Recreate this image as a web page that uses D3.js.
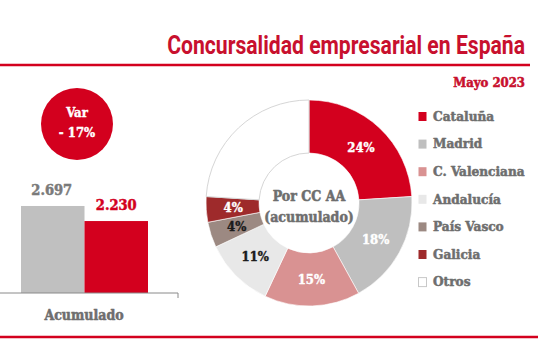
<!DOCTYPE html>
<html>
<head>
<meta charset="utf-8">
<script src="https://cdn.jsdelivr.net/npm/d3@7/dist/d3.min.js"></script>
<style>
  html, body { margin: 0; padding: 0; background: #fff; }
  svg { display: block; }
  .heavy { paint-order: stroke; stroke-linejoin: round; }
</style>
</head>
<body>
<svg id="chart" width="550" height="348"></svg>
<script>
// ---- Data ----
const title = "Concursalidad empresarial en España";
const subtitle = "Mayo 2023";
const barCategory = "Acumulado";
const barSeries = ["2022", "2023"];
const barValues = [2697, 2230];
const barLabels = ["2.697", "2.230"];
const variationLabel = ["Var", "- 17%"];
const regions = ["Cataluña", "Madrid", "C. Valenciana", "Andalucía", "País Vasco", "Galicia", "Otros"];
const regionShares = [24, 18, 15, 11, 4, 4, 24];
const regionLabels = ["24%", "18%", "15%", "11%", "4%", "4%", ""];
const centerText = ["Por CC AA", "(acumulado)"];

// ---- Styles ----
const RED = "#d3001e";
const regionColors = ["#d3001e", "#bfbfbf", "#d99292", "#e8e8e8", "#9c8982", "#9e2a2b", "#ffffff"];
const labelColors = ["#fff", "#fff", "#fff", "#1a1a1a", "#1a1a1a", "#fff", "#fff"];
const SERIF = "'DejaVu Serif Condensed', 'DejaVu Serif', serif";
const GRAY_TXT = "#6e6e6e";

const svg = d3.select("#chart");

function heavy(sel, color, w) {
  return sel.classed("heavy", true).attr("stroke", color).attr("stroke-width", w);
}

// Title (condensed by horizontal scaling)
const titleText = svg.append("text")
  .attr("x", 0).attr("y", 0)
  .attr("text-anchor", "end")
  .attr("font-family", "Roboto, 'Open Sans', sans-serif")
  .attr("font-weight", 700)
  .attr("font-size", 25)
  .attr("fill", "#c8102e")
  .text(title);
const tw = titleText.node().getComputedTextLength();
const sx = 358 / tw;
titleText.attr("transform", `translate(525,54) scale(${sx},1)`);

svg.append("line")
  .attr("x1", 0).attr("x2", 530).attr("y1", 65).attr("y2", 65)
  .attr("stroke", RED).attr("stroke-width", 2.5);

heavy(svg.append("text")
  .attr("x", 525).attr("y", 87)
  .attr("text-anchor", "end")
  .attr("font-family", SERIF)
  .attr("font-weight", 700)
  .attr("font-size", 13)
  .attr("fill", "#c8102e")
  .text(subtitle), "#c8102e", 0.5);

// Bottom line
svg.append("line")
  .attr("x1", 0).attr("x2", 538).attr("y1", 337).attr("y2", 337)
  .attr("stroke", RED).attr("stroke-width", 2.5);

// ---- Variation bubble ----
svg.append("circle")
  .attr("cx", 77).attr("cy", 124).attr("r", 36)
  .attr("fill", RED);
heavy(svg.selectAll("text.var").data(variationLabel).join("text")
  .attr("class", "var")
  .attr("x", 77)
  .attr("y", (d, i) => 117 + i * 20)
  .attr("text-anchor", "middle")
  .attr("font-family", SERIF)
  .attr("font-weight", 700)
  .attr("font-size", 13)
  .attr("fill", "#fff")
  .text(d => d), "#fff", 0.4);

// ---- Bars ----
const x = d3.scaleBand().domain(barSeries).range([21, 148]).padding(0);
const y = d3.scaleLinear().domain([0, 3000]).range([293, 196.2]);
const barColors = ["#c0c0c0", RED];
const barTextColors = ["#7a7a7a", RED];

svg.selectAll("rect.bar").data(barValues).join("rect")
  .attr("class", "bar")
  .attr("x", (d, i) => x(barSeries[i]))
  .attr("width", x.bandwidth())
  .attr("y", d => y(d))
  .attr("height", d => y(0) - y(d))
  .attr("fill", (d, i) => barColors[i]);

svg.selectAll("text.barlabel").data(barValues).join("text")
  .attr("class", "barlabel heavy")
  .attr("x", (d, i) => x(barSeries[i]) + x.bandwidth() / 2 - (i === 0 ? 1 : 0))
  .attr("y", d => y(d) - 11)
  .attr("text-anchor", "middle")
  .attr("font-family", SERIF)
  .attr("font-weight", 700)
  .attr("font-size", 14.5)
  .attr("fill", (d, i) => barTextColors[i])
  .attr("stroke", (d, i) => barTextColors[i])
  .attr("stroke-width", 0.5)
  .text((d, i) => barLabels[i]);

// Axis baseline
svg.append("path")
  .attr("d", `M0,${y(0)}H178V${y(0) + 5}`)
  .attr("fill", "none")
  .attr("stroke", "#8a8a8a")
  .attr("stroke-width", 1);

heavy(svg.append("text")
  .attr("x", 84).attr("y", 320)
  .attr("text-anchor", "middle")
  .attr("font-family", SERIF)
  .attr("font-weight", 700)
  .attr("font-size", 14)
  .attr("fill", GRAY_TXT)
  .text(barCategory), GRAY_TXT, 0.5);

// ---- Donut ----
const cx = 309, cy = 203, rOuter = 103, rInner = 50;
const pie = d3.pie().sort(null).value(d => d);
const arcs = pie(regionShares);
const arc = d3.arc().innerRadius(rInner).outerRadius(rOuter);
const labelArc = d3.arc().innerRadius(76).outerRadius(76);

const g = svg.append("g").attr("transform", `translate(${cx},${cy})`);
g.selectAll("path").data(arcs).join("path")
  .attr("d", arc)
  .attr("fill", (d, i) => regionColors[i])
  .attr("stroke", (d, i) => i === 6 ? "#d6d6d6" : "#ffffff")
  .attr("stroke-width", (d, i) => i === 6 ? 1 : 0.6);

g.selectAll("text.slice").data(arcs).join("text")
  .attr("class", "slice heavy")
  .attr("transform", d => `translate(${labelArc.centroid(d)})`)
  .attr("dy", "0.36em")
  .attr("text-anchor", "middle")
  .attr("font-family", SERIF)
  .attr("font-weight", 700)
  .attr("font-size", 13)
  .attr("fill", (d, i) => labelColors[i])
  .attr("stroke", (d, i) => labelColors[i])
  .attr("stroke-width", 0.4)
  .text((d, i) => regionLabels[i]);

heavy(g.selectAll("text.center").data(centerText).join("text")
  .attr("class", "center")
  .attr("x", 0)
  .attr("y", (d, i) => -2 + i * 21)
  .attr("text-anchor", "middle")
  .attr("font-family", SERIF)
  .attr("font-weight", 700)
  .attr("font-size", 14)
  .attr("fill", GRAY_TXT)
  .text(d => d), GRAY_TXT, 0.5);

// ---- Legend ----
const legend = svg.append("g");
const rows = legend.selectAll("g").data(regions).join("g")
  .attr("transform", (d, i) => `translate(418, ${116 + i * 27.6})`);
rows.append("rect")
  .attr("x", 0.5).attr("y", -4)
  .attr("width", 8).attr("height", 9)
  .attr("fill", (d, i) => regionColors[i])
  .attr("stroke", (d, i) => i === 6 ? "#c8c8c8" : "none")
  .attr("stroke-width", 1);
heavy(rows.append("text")
  .attr("x", 15).attr("y", 0)
  .attr("dy", "0.36em")
  .attr("font-family", SERIF)
  .attr("font-weight", 700)
  .attr("font-size", 13.5)
  .attr("fill", GRAY_TXT)
  .text(d => d), GRAY_TXT, 0.5);
</script>
</body>
</html>
